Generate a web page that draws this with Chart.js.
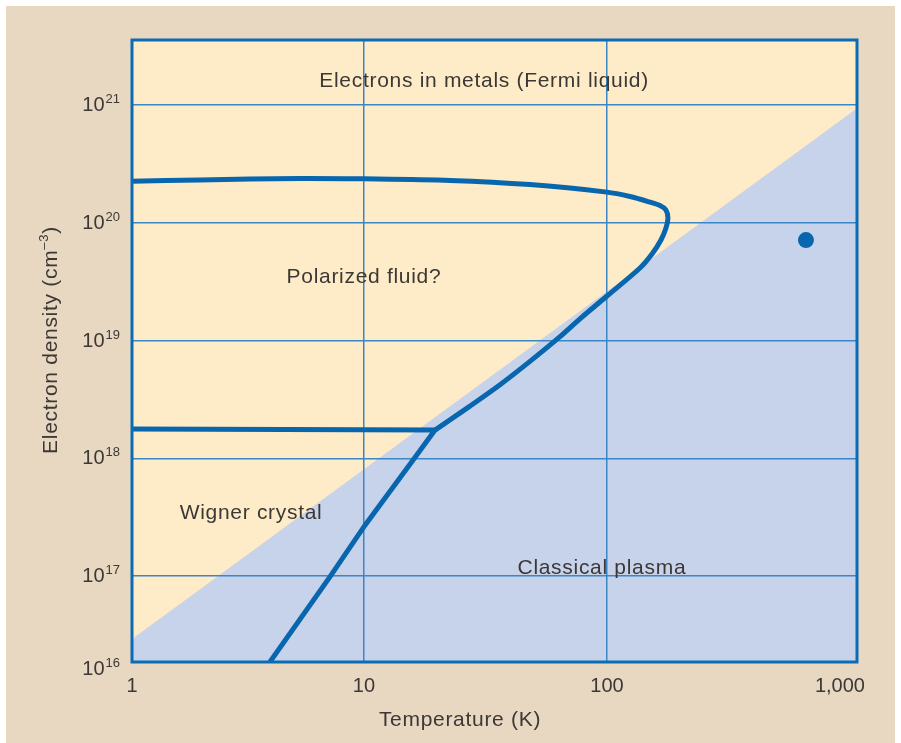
<!DOCTYPE html>
<html>
<head>
<meta charset="utf-8">
<title>Electron phase diagram</title>
<script src="https://cdn.jsdelivr.net/npm/chart.js@4.4.1/dist/chart.umd.min.js"></script>
<style>
    html, body { margin: 0; padding: 0; background: #ffffff; }
    #panel { position: absolute; left: 6px; top: 6px; width: 889px; height: 737px; background: #e8d7c1; }
    #phase { position: absolute; left: 0; top: 0; }
</style>
</head>
<body>
<div id="panel"></div>
<canvas id="phase" width="901" height="743"></canvas>
<script>
// =====================================
// DATA (temperature in K, density in cm^-3)
// =====================================

const X_MIN = 1.11;
const X_MAX = 1069;
const Y_MIN = 1.87e16;
const Y_MAX = 3.56e21;

const xGridValues = [10, 100];
const yGridValues = [1e17, 1e18, 1e19, 1e20, 1e21];

const xTickValues = [1, 10, 100, 1000];
const xTickLabels = ["1", "10", "100", "1,000"];

const yTickValues = [1e16, 1e17, 1e18, 1e19, 1e20, 1e21];
const yTickExponents = ["16", "17", "18", "19", "20", "21"];

// degeneracy boundary (yellow above, blue below)
const boundaryT = [1, 1100];
const boundaryN = [2.5e16, 9.8e20];

// Wigner crystal boundary, upper branch (left -> nose -> kink)
const upperT = [1.11, 2.11, 5.46, 10, 22.6, 48.2, 100, 124.4, 147.5, 165.2, 174.9, 178.2, 174.9, 166.8, 153.2, 136.7, 100, 77.4, 64.1, 48.2, 36.3, 27.3, 19.6];
const upperN = [2.25e20, 2.31e20, 2.38e20, 2.36e20, 2.29e20, 2.11e20, 1.82e20, 1.671e20, 1.515e20, 1.401e20, 1.283e20, 1.097e20, 9.03e19, 7.14e19, 5.43e19, 4.13e19, 2.39e19, 1.53e19, 1.08e19, 6.66e18, 4.22e18, 2.78e18, 1.74e18];

// Wigner crystal boundary, lower branch (flat line -> kink -> down)
const lowerT = [1.11, 19.6, 15.9, 10.1, 7.24, 4.10];
const lowerN = [1.78e18, 1.74e18, 9.66e17, 2.71e17, 9.87e16, 1.87e16];

const dotT = [659];
const dotN = [7.13e19];

const regionLabels = [
    { text: "Electrons in metals (Fermi liquid)", t: 31.2, n: 1.6e21 },
    { text: "Polarized fluid?", t: 10, n: 3.46e19 },
    { text: "Wigner crystal", t: 3.43, n: 3.4e17 },
    { text: "Classical plasma", t: 95.3, n: 1.18e17 }
];

const X_TITLE = "Temperature (K)";
const Y_TITLE = "Electron density (cm";
const Y_TITLE_SUP = "\u20133";

// =====================================
// HELPERS
// =====================================

const toPoints = (xs, ys) => xs.map((x, i) => ({ x: x, y: ys[i] }));

const FONT = "'Liberation Sans', Arial, sans-serif";
const TEXT_COLOR = "#3b3835";
const LINE_BLUE = "#0866ae";

const labelsPlugin = {

    id: "labelsPlugin",

    afterDraw(chart) {

        const ctx = chart.ctx;
        const area = chart.chartArea;
        const xs = chart.scales.x;
        const ys = chart.scales.y;

        // frame
        ctx.save();
        ctx.strokeStyle = "#0a6cb5";
        ctx.lineWidth = 3;
        ctx.strokeRect(area.left, area.top, area.right - area.left, area.bottom - area.top);
        ctx.restore();

        ctx.save();
        ctx.fillStyle = TEXT_COLOR;

        // x tick labels
        ctx.font = "20px " + FONT;
        ctx.textAlign = "center";
        ctx.textBaseline = "alphabetic";

        xTickValues.forEach((v, i) => {
            let px = xs.getPixelForValue(v);
            px = Math.max(area.left, Math.min(area.right, px));
            if (i === xTickValues.length - 1) {
                px -= 10;
            }
            ctx.fillText(xTickLabels[i], px, area.bottom + 30);
        });

        // y tick labels (10 with superscript)
        yTickValues.forEach((v, i) => {
            let py = ys.getPixelForValue(v);
            let shift = 6;
            if (v < Y_MIN) {
                py = area.bottom;
                shift = 13;
            }
            ctx.font = "13px " + FONT;
            const supW = ctx.measureText(yTickExponents[i]).width;
            ctx.textAlign = "right";
            const right = area.left - 12;
            ctx.fillText(yTickExponents[i], right, py + shift - 8);
            ctx.font = "20px " + FONT;
            ctx.fillText("10", right - supW - 1, py + shift);
        });

        ctx.letterSpacing = "0.7px";

        // x title
        ctx.font = "21px " + FONT;
        ctx.textAlign = "center";
        ctx.fillText(X_TITLE, 460, 726);

        // y title, rotated, with superscript
        ctx.translate(57, 340);
        ctx.rotate(-Math.PI / 2);
        ctx.font = "21px " + FONT;
        const w1 = ctx.measureText(Y_TITLE).width;
        const w3 = ctx.measureText(")").width;
        ctx.font = "13px " + FONT;
        const w2 = ctx.measureText(Y_TITLE_SUP).width;
        let x0 = -(w1 + w2 + w3) / 2;
        ctx.textAlign = "left";
        ctx.font = "21px " + FONT;
        ctx.fillText(Y_TITLE, x0, 0);
        ctx.font = "13px " + FONT;
        ctx.fillText(Y_TITLE_SUP, x0 + w1, -9);
        ctx.font = "21px " + FONT;
        ctx.fillText(")", x0 + w1 + w2, 0);
        ctx.restore();

        // region labels
        ctx.save();
        ctx.fillStyle = TEXT_COLOR;
        ctx.letterSpacing = "0.7px";
        ctx.font = "21px " + FONT;
        ctx.textAlign = "center";
        ctx.textBaseline = "middle";
        regionLabels.forEach((r) => {
            ctx.fillText(r.text, xs.getPixelForValue(r.t), ys.getPixelForValue(r.n));
        });
        ctx.restore();
    }
};

// =====================================
// CHART
// =====================================

window.onload = function () {

    const canvas = document.getElementById("phase");

    new Chart(canvas, {

        type: "scatter",

        data: {

            datasets: [
                {
                    data: toPoints(boundaryT, boundaryN),
                    showLine: true,
                    borderWidth: 0,
                    pointRadius: 0,
                    fill: "end",
                    backgroundColor: "#feebc8"
                },
                {
                    data: toPoints(boundaryT, boundaryN),
                    showLine: true,
                    borderWidth: 0,
                    pointRadius: 0,
                    fill: "start",
                    backgroundColor: "#c7d3ea"
                },
                {
                    data: toPoints(upperT, upperN),
                    showLine: true,
                    borderColor: LINE_BLUE,
                    borderWidth: 5,
                    pointRadius: 0,
                    tension: 0.3,
                    fill: false
                },
                {
                    data: toPoints(lowerT, lowerN),
                    showLine: true,
                    borderColor: LINE_BLUE,
                    borderWidth: 5,
                    pointRadius: 0,
                    tension: 0,
                    fill: false
                },
                {
                    data: toPoints(dotT, dotN),
                    showLine: false,
                    pointRadius: 8,
                    pointBackgroundColor: LINE_BLUE,
                    pointBorderWidth: 0
                }
            ]
        },

        options: {

            responsive: false,

            animation: false,

            devicePixelRatio: 1,

            layout: {
                padding: { left: 132, top: 40, right: 44, bottom: 81 }
            },

            plugins: {
                legend: { display: false },
                tooltip: { enabled: false },
                filler: { drawTime: "beforeDraw" }
            },

            scales: {

                x: {
                    type: "logarithmic",
                    min: X_MIN,
                    max: X_MAX,
                    afterBuildTicks: (scale) => {
                        scale.ticks = xGridValues.map((v) => ({ value: v }));
                    },
                    ticks: { display: false },
                    border: { display: false },
                    grid: {
                        color: "#3b86c4",
                        lineWidth: 1.5,
                        drawTicks: false
                    }
                },

                y: {
                    type: "logarithmic",
                    min: Y_MIN,
                    max: Y_MAX,
                    afterBuildTicks: (scale) => {
                        scale.ticks = yGridValues.map((v) => ({ value: v }));
                    },
                    ticks: { display: false },
                    border: { display: false },
                    grid: {
                        color: "#3b86c4",
                        lineWidth: 1.5,
                        drawTicks: false
                    }
                }
            }
        },

        plugins: [labelsPlugin]
    });
};
</script>
</body>
</html>
